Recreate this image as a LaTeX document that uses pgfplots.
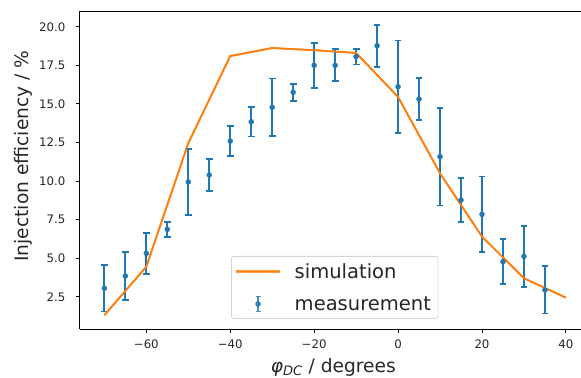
\documentclass[border=0pt]{standalone}
\usepackage{pgfplots}
\usepackage{pgfplotstable}
\pgfplotsset{compat=1.18}
\usepackage{fontspec}
\setmainfont{DejaVu Sans}
\definecolor{c0}{RGB}{31,119,180}
\definecolor{c1}{RGB}{255,127,14}
\definecolor{txt}{RGB}{38,38,38}

\pgfplotstableread{
x y e
-70 3.05 1.50
-65 3.84 1.55
-60 5.31 1.33
-55 6.87 0.48
-50 9.94 2.14
-45 10.39 1.05
-40 12.59 0.96
-35 13.84 0.95
-30 14.78 1.86
-25 15.75 0.55
-20 17.50 1.45
-15 17.50 1.04
-10 18.06 0.51
-5 18.77 1.36
0 16.11 3.00
5 15.31 1.35
10 11.58 3.17
15 8.77 1.44
20 7.84 2.46
25 4.77 1.45
30 5.12 1.99
35 2.94 1.53
}\measdata

\pgfplotstableread{
x y
-70 1.30
-60 4.45
-50 12.45
-40 18.10
-30 18.62
-20 18.48
-10 18.30
0 15.45
10 10.50
20 6.40
30 3.70
40 2.44
}\simdata

\begin{document}
\begin{tikzpicture}
\begin{axis}[
  scale only axis,
  width=501.4bp, height=318bp,
  xmin=-75.9, xmax=43.6, ymin=0.41, ymax=21.02,
  axis x line*=box, axis y line*=left,
  axis line style={line width=0.9bp, black},
  tick pos=left,
  tick align=outside,
  major tick length=4bp,
  tick style={line width=0.9bp, black},
  xtick={-60,-40,-20,0,20,40},
  xticklabels={−60,−40,−20,0,20,40},
  ytick={2.5,5,7.5,10,12.5,15,17.5,20},
  yticklabels={2.5,5.0,7.5,10.0,12.5,15.0,17.5,20.0},
  ticklabel style={font=\fontsize{11.8}{14}\selectfont, text=txt},
  xticklabel style={anchor=north, inner sep=0pt, yshift=-7bp},
  yticklabel style={anchor=east, inner sep=0pt, xshift=-10bp},
  every axis y label/.style={at={(rel axis cs:0,0.544)}, anchor=center, xshift=-56.6bp, rotate=90, font=\fontsize{18.7}{22}\selectfont, text=txt},
  every axis x label/.style={at={(rel axis cs:0.506,0)}, anchor=base, yshift=-43bp, font=\fontsize{18.7}{22}\selectfont, text=txt},
  xlabel={\textit{φ}\textsubscript{\textit{DC}} / degrees},
  ylabel={Injection efficiency / \%},
  legend cell align=left,
  legend style={at={(axis cs:-15.1,1.06)}, anchor=south,
    draw=black!20, line width=0.8bp, rounded corners=2.5bp,
    fill=white, fill opacity=0.8, draw opacity=0.8, text opacity=1,
    font=\fontsize{19.6}{22}\selectfont, text=txt,
    inner xsep=5bp, inner ysep=5bp, row sep=12.7bp},
]
\addplot[c1, line width=1.7bp,
  legend image code/.code={\fill[c1, fill opacity=1, sharp corners] (0bp,-0.85bp) rectangle (41.6bp,0.85bp);
    \path (0bp,-7.5bp) (54.6bp,7.5bp);}]
  table[x=x, y=y] {\simdata};
\addlegendentry{simulation}
\addplot[c0, only marks, mark=*, mark size=2.5bp, mark options={draw=c0, fill=c0},
  error bars/.cd, y dir=both, y explicit,
  error bar style={line width=2bp, c0},
  error mark options={rotate=90, line width=1.8bp, c0, mark size=3.4bp},
  /pgfplots/legend image code/.code={
    \draw[c0, line width=2bp] (20.8bp,-7.5bp) -- (20.8bp,7.5bp);
    \draw[c0, line width=1.6bp] (18.3bp,7.5bp) -- (23.3bp,7.5bp);
    \draw[c0, line width=1.6bp] (18.3bp,-7.5bp) -- (23.3bp,-7.5bp);
    \fill[c0] (20.8bp,0bp) circle (2.4bp);
    \path (0bp,-7.5bp) (54.6bp,7.5bp);}]
  table[x=x, y=y, y error=e] {\measdata};
\addlegendentry{measurement}
\addplot[forget plot, c1, line width=1.7bp] table[x=x, y=y] {\simdata};
\end{axis}
\pgfresetboundingbox
\useasboundingbox (-79.6bp,-49bp) rectangle (501.4bp,329bp);
\end{tikzpicture}
\end{document}
